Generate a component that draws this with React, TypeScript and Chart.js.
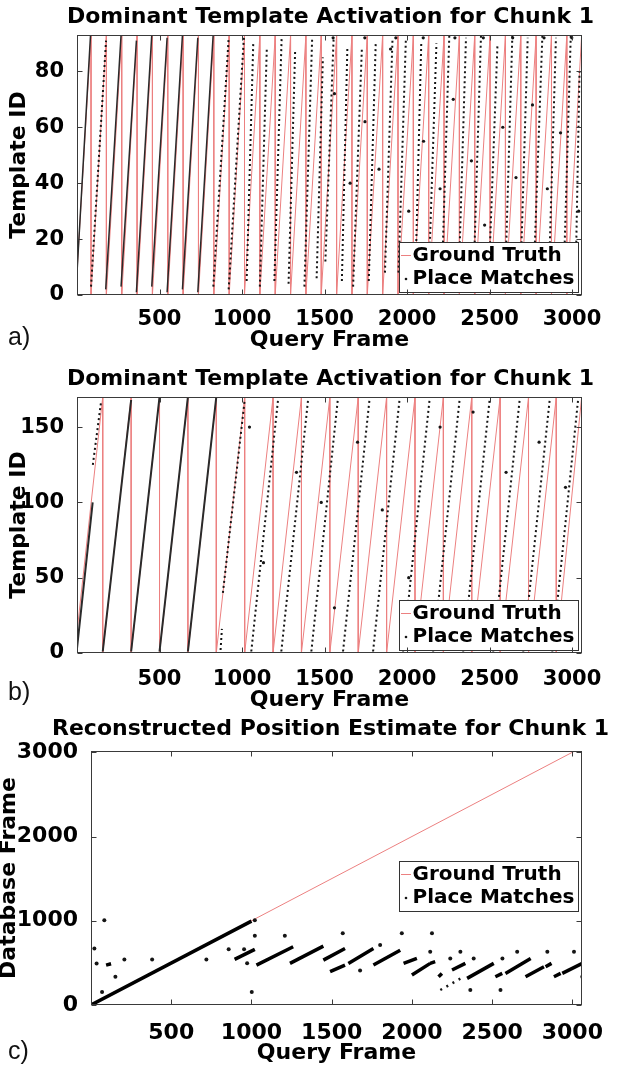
import React, { useEffect, useRef } from "react";
import { Chart, registerables } from "chart.js";

Chart.register(...registerables);

const FONT_FAMILY = '"DejaVu Sans", "Noto Sans", sans-serif';
const GT_COLOR = "rgb(236, 128, 128)";
const MATCH_COLOR = "#151515";

type Seg = [number, number, number, number];
type Pt = [number, number];

// ---------- shared ----------
const queryFrameMax = 3060;
const queryFrameTicks = [0, 500, 1000, 1500, 2000, 2500, 3000];
const legendLabels = ["Ground Truth", "Place Matches"];

// ---------- panel a ----------
const titleA = "Dominant Template Activation for Chunk 1";
const templateMaxA = 93;
const templateTicksA = [0, 20, 40, 60, 80];
const gtStartA = 8;
const gtResetsA = [85, 178, 271, 364, 457, 550, 643, 736, 829, 922, 1015, 1108, 1201, 1294, 1387, 1480, 1573, 1666, 1759, 1852, 1945, 2038, 2131, 2224, 2317, 2410, 2503, 2596, 2689, 2782, 2875, 2968, 3058];
const denseMatchesA: Seg[] = [
  [0, 8, 82, 93], [174, 2, 267, 93], [267, 3, 360, 91], [360, 1, 453, 93],
  [453, 3, 546, 92], [546, 1, 639, 93], [639, 2, 732, 92], [732, 1, 825, 93],
];
const sparseMatchesA: Seg[] = [
  [85, 3, 176, 91], [826, 3, 919, 92], [919, 2, 1012, 93],
  [1028, 5, 1068, 90], [1108, 3, 1150, 88], [1196, 5, 1240, 92], [1282, 4, 1322, 88],
  [1378, 3, 1425, 92], [1452, 6, 1490, 85], [1505, 12, 1555, 92], [1605, 5, 1638, 88],
  [1673, 3, 1726, 88], [1768, 5, 1810, 90], [1866, 8, 1912, 92], [1948, 8, 1993, 92],
  [2050, 5, 2086, 90], [2130, 4, 2178, 90], [2212, 8, 2256, 93], [2313, 6, 2357, 92],
  [2404, 8, 2448, 93], [2495, 6, 2548, 90], [2596, 8, 2638, 93], [2687, 6, 2731, 92],
  [2768, 8, 2820, 93], [2859, 6, 2902, 92], [2950, 8, 2992, 93], [3022, 8, 3045, 80],
];
const dotMatchesA: Pt[] = [
  [1560, 72], [1655, 40], [1745, 62], [1830, 45], [1900, 88], [2010, 30], [2100, 55],
  [2200, 38], [2280, 70], [2390, 48], [2470, 25], [2580, 60], [2660, 42], [2760, 68],
  [2850, 38], [2930, 58], [3040, 30], [1552, 92], [1744, 92], [1932, 92], [2098, 92],
  [2290, 92], [2462, 92], [2640, 92], [2830, 92], [2998, 92],
];

// ---------- panel b ----------
const titleB = "Dominant Template Activation for Chunk 1";
const templateMaxB = 170;
const templateTicksB = [0, 50, 100, 150];
const gtStartB = 14;
const gtResetsB = [156, 328, 500, 672, 844, 1016, 1188, 1360, 1532, 1704, 1876, 2048, 2220, 2392, 2564, 2736, 2904, 3058];
const denseMatchesB: Seg[] = [
  [0, 3, 95, 100], [156, 1, 328, 168], [328, 1, 500, 170], [500, 1, 672, 170], [672, 1, 844, 170],
];
const sparseMatchesB: Seg[] = [
  [96, 125, 146, 167], [870, 2, 878, 16], [884, 40, 1016, 168], [1056, 1, 1218, 168],
  [1238, 1, 1400, 168], [1420, 1, 1582, 170], [1612, 1, 1774, 170], [1794, 1, 1956, 170],
  [1976, 1, 2138, 170], [2158, 1, 2320, 170], [2340, 1, 2502, 170], [2522, 1, 2684, 170],
  [2704, 1, 2866, 170], [2880, 1, 3038, 170],
];
const dotMatchesB: Pt[] = [
  [1045, 150], [1130, 60], [1330, 120], [1480, 100], [1560, 30], [1700, 140], [1850, 95],
  [2010, 50], [2200, 150], [2400, 160], [2600, 120], [2800, 140], [2960, 110],
];

// ---------- panel c ----------
const titleC = "Reconstructed Position Estimate for Chunk 1";
const dbFrameMaxC = 3015;
const dbFrameTicksC = [0, 1000, 2000, 3000];
const gtFramesC = [0, 3058, 3058];
const gtDbC = [0, 3058, 0];
const denseMatchesC: Seg[] = [
  [0, 0, 1000, 995], [94, 474, 125, 490], [895, 541, 1021, 660], [1031, 474, 1260, 691],
  [1240, 494, 1448, 699], [1448, 533, 1583, 671], [1490, 395, 1583, 474], [1604, 494, 1760, 671],
  [1760, 474, 1927, 651], [1948, 494, 2031, 553], [2000, 355, 2114, 494], [2114, 494, 2145, 514],
  [2166, 335, 2187, 375], [2250, 415, 2333, 494], [2344, 316, 2510, 494], [2520, 335, 2563, 375],
  [2583, 375, 2740, 553], [2708, 335, 2823, 454], [2833, 454, 2870, 494], [2885, 335, 2927, 375],
  [2937, 375, 3062, 494],
];
const sparseMatchesC: Seg[] = [[2177, 178, 2323, 335]];
const dotMatchesC: Pt[] = [
  [21, 671], [35, 494], [69, 154], [83, 1007], [152, 335], [208, 541], [381, 541], [719, 541],
  [858, 663], [954, 663], [973, 495], [1002, 154], [1021, 821], [1021, 1007], [1208, 821],
  [1569, 852], [1677, 411], [1802, 711], [1937, 852], [2114, 632], [2125, 852], [2239, 553],
  [2302, 632], [2364, 178], [2385, 553], [2552, 178], [2564, 553], [2656, 632], [2844, 632],
  [3010, 632], [3062, 335],
];

// ---------- helpers ----------
function segPoints(list: Seg[]) {
  const out: { x: number; y: number | null }[] = [];
  for (const [x0, y0, x1, y1] of list) {
    out.push({ x: x0, y: y0 }, { x: x1, y: y1 }, { x: x1, y: null });
  }
  return out;
}
function sawPoints(start: number, resets: number[], top: number) {
  const out: { x: number; y: number }[] = [{ x: 0, y: start }];
  for (const r of resets) out.push({ x: r, y: top }, { x: r, y: 0 });
  return out;
}
function pairPoints(xs: number[], ys: number[]) {
  return xs.map((x, i) => ({ x, y: ys[i] }));
}
function dotPoints(list: Pt[]) {
  return list.map(([x, y]) => ({ x, y }));
}

function buildDatasets(gt: any[], dense: Seg[], sparse: Seg[], dots: Pt[], heavy: boolean, denseWidth: number) {
  return [
    {
      label: legendLabels[0], data: gt, showLine: true, borderColor: GT_COLOR,
      borderWidth: 1, pointRadius: 0, spanGaps: false, order: 2,
    },
    {
      label: legendLabels[1], data: segPoints(dense), showLine: true,
      borderColor: heavy ? "#000" : "#2a2a2a", borderWidth: denseWidth,
      pointRadius: 0, spanGaps: false, order: 1,
    },
    {
      label: legendLabels[1], data: segPoints(sparse), showLine: true,
      borderColor: MATCH_COLOR, borderWidth: heavy ? 2.5 : 2, borderDash: heavy ? [2, 5] : [2, 3],
      pointRadius: 0, spanGaps: false, order: 1,
    },
    {
      label: legendLabels[1], data: dotPoints(dots), showLine: false,
      backgroundColor: MATCH_COLOR, borderColor: MATCH_COLOR, pointRadius: heavy ? 2 : 1.6, borderWidth: 0, order: 0,
    },
  ];
}

function makeDecor(legendTop: number | null) {
  return {
    id: "decor",
    afterDatasetsDraw(chart: any) {
      const { ctx, chartArea: a, scales } = chart;
      ctx.save();
      // legend box
      const w = 179, h = 50;
      const left = Math.round(a.right - 4 - w);
      const top = Math.round(legendTop === null ? a.bottom - 3 - h : a.top + legendTop);
      ctx.fillStyle = "#fff";
      ctx.fillRect(left, top, w, h);
      ctx.strokeStyle = "#333";
      ctx.lineWidth = 1;
      ctx.strokeRect(left + 0.5, top + 0.5, w, h);
      const r1 = top + 13.5, r2 = top + 37;
      ctx.strokeStyle = GT_COLOR;
      ctx.beginPath(); ctx.moveTo(left + 2, r1); ctx.lineTo(left + 12, r1); ctx.stroke();
      ctx.fillStyle = MATCH_COLOR;
      ctx.beginPath(); ctx.arc(left + 7, r2, 1.3, 0, Math.PI * 2); ctx.fill();
      ctx.font = `bold 20px ${FONT_FAMILY}`;
      ctx.textBaseline = "middle";
      ctx.textAlign = "left";
      ctx.fillStyle = "#000";
      const labels: string[] = [];
      for (const ds of chart.data.datasets) if (!labels.includes(ds.label)) labels.push(ds.label);
      ctx.fillText(labels[0], left + 13.5, r1);
      ctx.fillText(labels[1], left + 13.5, r2);
      // frame
      ctx.strokeStyle = "#3a3a3a";
      ctx.lineWidth = 1;
      const L = Math.round(a.left) + 0.5, R = Math.round(a.right) - 0.5;
      const T = Math.round(a.top) + 0.5, B = Math.round(a.bottom) - 0.5;
      ctx.strokeRect(L, T, R - L, B - T);
      ctx.beginPath();
      for (const t of scales.x.ticks) {
        const px = Math.round(scales.x.getPixelForValue(t.value)) + 0.5;
        ctx.moveTo(px, B); ctx.lineTo(px, B - 5);
        ctx.moveTo(px, T); ctx.lineTo(px, T + 5);
      }
      for (const t of scales.y.ticks) {
        const py = Math.round(scales.y.getPixelForValue(t.value)) + 0.5;
        ctx.moveTo(L, py); ctx.lineTo(L + 5, py);
        ctx.moveTo(R, py); ctx.lineTo(R - 5, py);
      }
      ctx.stroke();
      ctx.restore();
    },
  };
}

const CANVAS_W = 661;
const PLOT_RIGHT = 582;

interface PanelProps {
  top: number;
  height: number;
  yAxisWidth: number;
  title: string;
  titlePad: [number, number];
  xAxisHeight: number;
  xTickPad: number;
  xTitleBottom: number;
  yTitle: string;
  yTitlePad: number;
  yMax: number;
  yTicks: number[];
  tickSize: number;
  datasets: any[];
  legendTop: number | null;
}

function Panel(p: PanelProps) {
  const ref = useRef<HTMLCanvasElement | null>(null);
  useEffect(() => {
    if (!ref.current) return;
    const tickFont = { family: FONT_FAMILY, size: p.tickSize, weight: "bold" as const };
    const titleFont = { family: FONT_FAMILY, size: 22, weight: "bold" as const };
    const chart = new Chart(ref.current, {
      type: "scatter",
      data: { datasets: p.datasets },
      options: {
        animation: false,
        responsive: false,
        devicePixelRatio: 1,
        layout: { padding: 0 },
        plugins: {
          legend: { display: false },
          tooltip: { enabled: false },
          title: {
            display: true, text: p.title, font: titleFont, color: "#000",
            padding: { top: p.titlePad[0], bottom: p.titlePad[1] }, fullSize: true,
          },
        },
        scales: {
          x: {
            type: "linear", min: 0, max: queryFrameMax,
            grid: { display: false }, border: { display: false },
            afterBuildTicks: (s: any) => { s.ticks = queryFrameTicks.map((v) => ({ value: v })); },
            ticks: {
              autoSkip: false, maxRotation: 0,
              font: tickFont, color: "#000", padding: p.xTickPad,
              callback: (v: any) => (Number(v) === 0 ? "" : String(v)),
            },
            title: { display: true, text: "Query Frame", font: titleFont, color: "#000", padding: { top: 0, bottom: p.xTitleBottom } },
            afterFit: (s: any) => { s.height = p.xAxisHeight; },
          },
          y: {
            type: "linear", min: 0, max: p.yMax,
            grid: { display: false }, border: { display: false },
            afterBuildTicks: (s: any) => { s.ticks = p.yTicks.map((v) => ({ value: v })); },
            ticks: {
              autoSkip: false,
              font: tickFont, color: "#000", padding: 5,
              callback: (v: any) => String(v),
            },
            title: { display: true, text: p.yTitle, font: titleFont, color: "#000", padding: { top: p.yTitlePad, bottom: 0 } },
            afterFit: (s: any) => { s.width = p.yAxisWidth; },
          },
          yRightSpace: {
            type: "linear", position: "right", display: true,
            grid: { display: false }, border: { display: false },
            ticks: { display: false },
            afterFit: (s: any) => { s.width = CANVAS_W - PLOT_RIGHT; },
          },
        },
      } as any,
      plugins: [makeDecor(p.legendTop)],
    });
    return () => chart.destroy();
  }, []);
  return (
    <canvas
      ref={ref}
      width={CANVAS_W}
      height={p.height}
      style={{ position: "absolute", left: 0, top: p.top, width: CANVAS_W, height: p.height }}
    />
  );
}

const panelLetterStyle: React.CSSProperties = {
  position: "absolute",
  left: 8,
  fontFamily: '"Liberation Sans", Arial, sans-serif',
  fontSize: 25,
  lineHeight: "25px",
  color: "#111",
};

export default function App() {
  const dsA = buildDatasets(sawPoints(gtStartA, gtResetsA, templateMaxA), denseMatchesA, sparseMatchesA, dotMatchesA, false, 1.5);
  const dsB = buildDatasets(sawPoints(gtStartB, gtResetsB, templateMaxB), denseMatchesB, sparseMatchesB, dotMatchesB, false, 2);
  const dsC = buildDatasets(pairPoints(gtFramesC, gtDbC), denseMatchesC, sparseMatchesC, dotMatchesC, true, 3.5);
  return (
    <div style={{ position: "absolute", left: 0, top: 0, width: 631, height: 1067, background: "#fff", overflow: "hidden" }}>
      <Panel top={0} height={355} yAxisWidth={77} title={titleA} titlePad={[4.3, 4.3]} xAxisHeight={60}
        xTickPad={4.3} xTitleBottom={1.8} yTitle="Template ID" yTitlePad={5.8} yMax={templateMaxA} yTicks={templateTicksA}
        tickSize={21} datasets={dsA} legendTop={null} />
      <Panel top={355} height={360} yAxisWidth={77} title={titleB} titlePad={[10.8, 4.8]} xAxisHeight={62}
        xTickPad={5.8} xTitleBottom={1.8} yTitle="Template ID" yTitlePad={5.8} yMax={templateMaxB} yTicks={templateTicksB}
        tickSize={21} datasets={dsB} legendTop={null} />
      <Panel top={715} height={352} yAxisWidth={91} title={titleC} titlePad={[0.8, 8.8]} xAxisHeight={62}
        xTickPad={6.8} xTitleBottom={0.8} yTitle="Database Frame" yTitlePad={-4} yMax={dbFrameMaxC} yTicks={dbFrameTicksC}
        tickSize={22} datasets={dsC} legendTop={110} />
      <div style={{ ...panelLetterStyle, top: 324 }}>a)</div>
      <div style={{ ...panelLetterStyle, top: 679 }}>b)</div>
      <div style={{ ...panelLetterStyle, top: 1038 }}>c)</div>
    </div>
  );
}
